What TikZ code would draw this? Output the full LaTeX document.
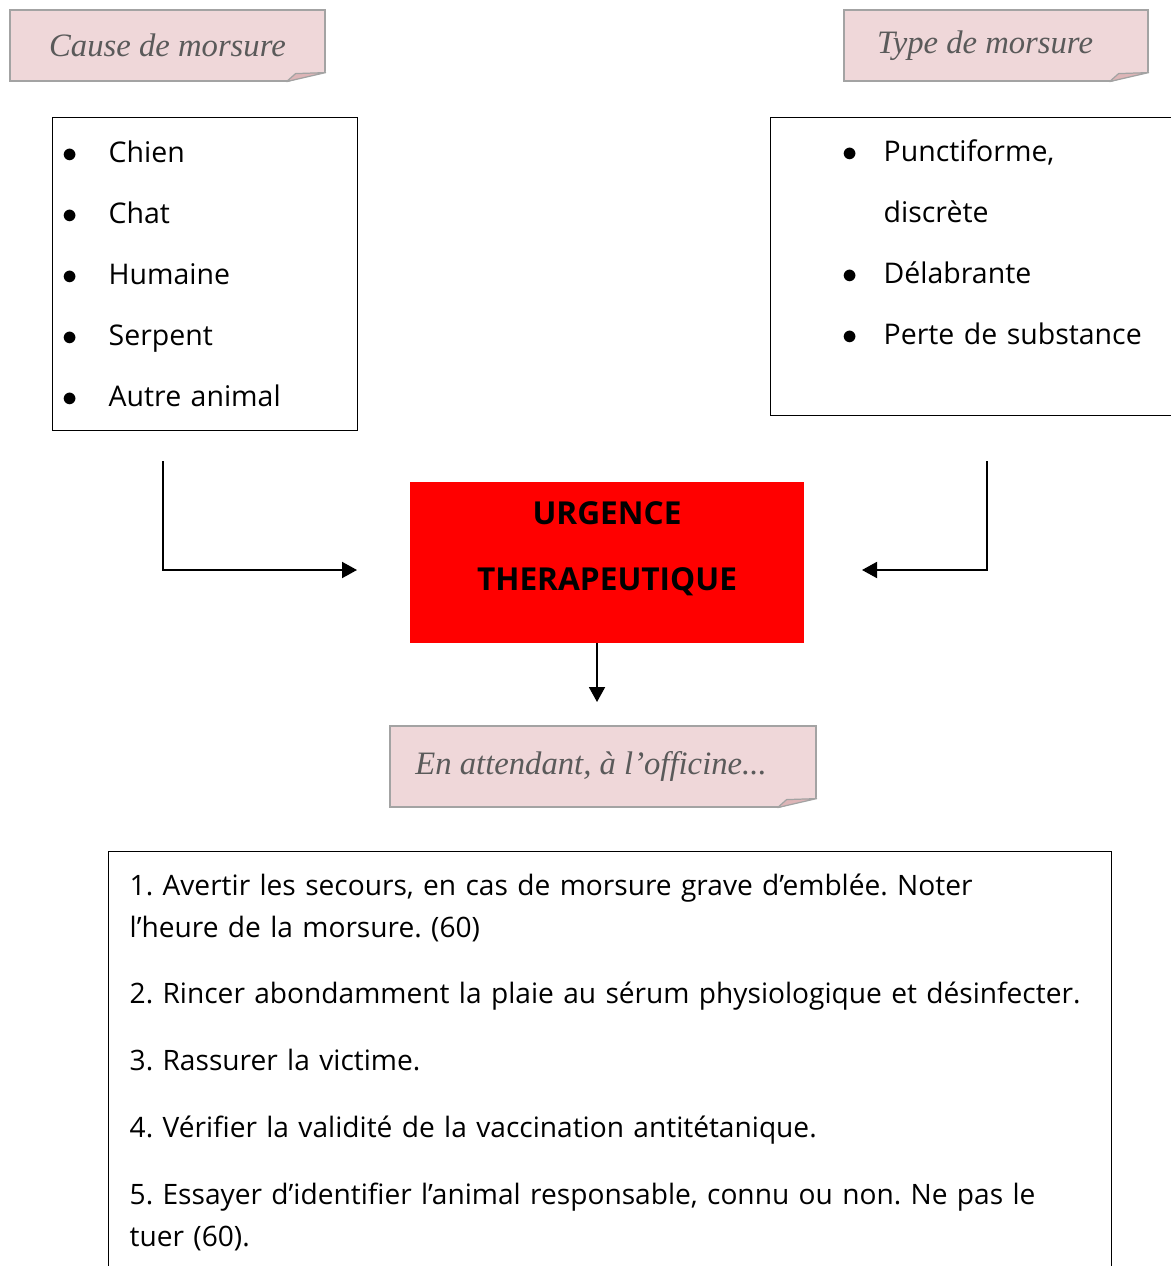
\documentclass[tikz,border=0pt]{standalone}
\usepackage{fontspec}
\setmainfont{Open Sans}
\newfontfamily\notefont{Liberation Serif}
\usetikzlibrary{positioning,arrows.meta}
\definecolor{notepink}{HTML}{EFD7D9}
\definecolor{foldpink}{HTML}{DDB5B7}
\definecolor{notegray}{HTML}{A3A3A3}
\definecolor{notetext}{HTML}{5A5A5A}
\definecolor{urgred}{HTML}{FF0000}
\tikzset{
	note/.style={draw=notegray, fill=notepink, line width=0.7pt, text=notetext,
		font=\notefont\itshape\fontsize{18.6}{22}\selectfont, inner sep=0pt},
	listbox/.style={draw, line width=0.8pt, anchor=north west, align=left,
		font=\fontsize{16.2}{34.7}\selectfont},
	urgent/.style={fill=urgred, minimum width=7.88cm, minimum height=3.22cm},
	link/.style={line width=1.1pt, -{Triangle[length=0.3cm, width=0.32cm]}}
}
\newcommand{\itm}[1][0.92cm]{\makebox[#1][l]{$\bullet$}}
\frenchspacing

\begin{document}
\begin{tikzpicture}[x=0.02cm, y=-0.02cm]
  \useasboundingbox (0,0) rectangle (1170,1266);

  \node[note, minimum width=6.3cm, minimum height=1.42cm] (cause) at (167.5,45.5) {\raisebox{-3pt}{Cause de morsure}};
  \node[note, minimum width=6.08cm, minimum height=1.42cm] (typ) at (996,45.5) {\raisebox{-3pt}{Type de morsure}\hspace*{0.44cm}};
  \node[note, minimum width=8.52cm, minimum height=1.62cm] (officine) at (603,766.5) {En attendant, à l’officine...\hspace*{0.48cm}};
  \foreach \n in {cause,typ,officine}{
    \fill[white] ([shift={(-40,1)}]\n.south east) -- ([shift={(1,1)}]\n.south east) -- ([shift={(1,-10)}]\n.south east) -- cycle;
    \draw[notegray, fill=foldpink, line width=0.7pt, line join=round] ([shift={(-39,0)}]\n.south east) -- ([shift={(-30,-8)}]\n.south east) -- ([shift={(0,-9)}]\n.south east) -- cycle;
  }

  \node[listbox, minimum width=6.1cm, minimum height=6.26cm, inner xsep=0.2cm, text width=5.7cm] (causes) at (52,117)
    {\itm Chien\\ \itm Chat\\ \itm Humaine\\ \itm Serpent\\ \itm Autre animal};
  \node[listbox, minimum width=8.4cm, minimum height=5.96cm, inner xsep=1.44cm, text width=6.6cm] (types) at (770,117)
    {\itm[0.82cm]Punctiforme,\\ \hspace*{0.82cm}discrète\\ \itm[0.82cm]Délabrante\\ \itm[0.82cm]Perte de substance\\[-0.24cm] \mbox{}};

  \node[urgent] (urgence) at (607,562.5) {};
  \node[font=\bfseries\fontsize{18}{37.6}\selectfont, align=center] (urgtitle) at (607,549) {URGENCE\\THERAPEUTIQUE};

  \coordinate (cdrop) at (163,461);
  \coordinate (cin) at (357,570);
  \coordinate (tdrop) at (987,461);
  \coordinate (tin) at (862,570);
  \coordinate (odown) at (597,702);
  \draw[link] (cdrop) |- (cin);
  \draw[link] (tdrop) |- (tin);
  \draw[link] (urgence.south -| odown) -- (odown);

  \node[listbox, font=\fontsize{16}{23.8}\selectfont, minimum width=20.06cm, text width=19.22cm, inner xsep=0.42cm, inner ysep=0.44cm] (conduite) at (108,851)
    {1. Avertir les secours, en cas de morsure grave d’emblée. Noter\\ l’heure de la morsure. (60)\\[0.5cm]
     2. Rincer abondamment la plaie au sérum physiologique et désinfecter.\\[0.5cm]
     3. Rassurer la victime.\\[0.5cm]
     4. Vérifier la validité de la vaccination antitétanique.\\[0.5cm]
     5. Essayer d’identifier l’animal responsable, connu ou non. Ne pas le\\ tuer (60).\\[0.5cm] \mbox{}};
\end{tikzpicture}
\end{document}
